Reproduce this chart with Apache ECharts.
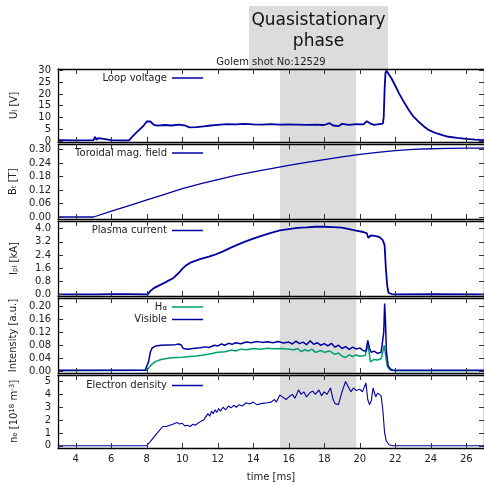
<!DOCTYPE html>
<html>
<head>
<meta charset="utf-8">
<script src="https://cdn.jsdelivr.net/npm/echarts@6/dist/echarts.min.js"></script>
<style>
  html, body { margin: 0; padding: 0; background: #fff; }
  #main { width: 484px; height: 483px; }
</style>
</head>
<body>
<div id="main"></div>
<script>
// time ticks (ms)
var timeTicks = [4, 6, 8, 10, 12, 14, 16, 18, 20, 22, 24, 26];
var loopTicks = [0, 5, 10, 15, 20, 25, 30];
var btTicks = [0, 0.06, 0.12, 0.18, 0.24, 0.30];
var ipTicks = [0, 0.8, 1.6, 2.4, 3.2, 4.0];
var intTicks = [0, 0.04, 0.08, 0.12, 0.16, 0.20];
var neTicks = [0, 1, 2, 3, 4, 5];

// [time ms, value]
var loopVoltage = [
  [3, 0.4], [4, 0.3], [5, 0.4], [5.1, 1.8], [5.15, 0.6], [5.3, 1.2], [5.35, 0.5], [6, 0.4],
  [6.5, 0.3], [7.0, 0.3], [7.2, 2.0], [7.5, 4.2], [7.8, 6.3], [8.0, 8.3], [8.1, 8.8], [8.2, 8.3],
  [8.4, 6.9], [8.6, 6.5], [9.0, 6.8], [9.4, 6.6], [9.8, 7.0], [10.2, 6.5], [10.4, 5.8], [10.8, 5.9],
  [11.2, 6.2], [11.6, 6.6], [12.0, 6.9], [12.5, 7.2], [13, 7.1], [13.5, 7.3], [14, 7.1], [14.5, 7.0],
  [15, 7.2], [15.5, 7.0], [16, 7.1], [16.5, 7.0], [17, 6.9], [17.5, 7.0], [18, 6.8], [18.3, 7.6],
  [18.5, 6.6], [18.8, 6.3], [19, 7.3], [19.4, 6.9], [19.8, 7.2], [20.2, 7.1], [20.4, 8.4], [20.5, 9.2],
  [20.6, 7.4], [20.8, 6.9], [21, 7.1], [21.3, 7.4], [21.35, 10], [21.4, 22], [21.45, 29], [21.5, 30],
  [21.6, 29.2], [21.8, 26.5], [22.0, 23.5], [22.2, 20.5], [22.4, 17.7], [22.6, 15.2], [22.8, 12.8],
  [23.0, 10.6], [23.3, 8.3], [23.6, 6.3], [23.9, 4.6], [24.3, 3.3], [24.7, 2.4], [25.0, 1.8],
  [25.5, 1.3], [26, 0.9], [26.5, 0.6], [27, 0.4]
];

var toroidalField = [
  [3, 0], [5, 0], [6, 0.026], [7, 0.051], [8, 0.076], [9, 0.101], [10, 0.126], [11, 0.148],
  [12, 0.167], [13, 0.185], [14, 0.201], [15, 0.216], [16, 0.230], [17, 0.243], [18, 0.256],
  [19, 0.268], [20, 0.279], [21, 0.288], [22, 0.296], [23, 0.301], [24, 0.304], [25, 0.306],
  [26, 0.307], [27, 0.307]
];

var plasmaCurrent = [
  [3, 0], [5, 0], [5.1, 0.08], [5.2, 0], [6, 0.02], [7, 0.02], [8.05, 0], [8.2, 0.2], [8.4, 0.38],
  [8.7, 0.55], [9.0, 0.7], [9.2, 0.82], [9.5, 1.0], [9.8, 1.3], [10.0, 1.55], [10.2, 1.75],
  [10.5, 1.95], [11, 2.15], [11.5, 2.3], [11.8, 2.4], [12.3, 2.62], [12.8, 2.88], [13.5, 3.2],
  [14, 3.4], [14.5, 3.58], [15, 3.75], [15.5, 3.9], [16, 3.98], [16.5, 4.05], [17, 4.08],
  [17.5, 4.12], [18, 4.12], [18.5, 4.1], [19, 4.07], [19.4, 3.98], [19.8, 3.88], [20.2, 3.8],
  [20.4, 3.72], [20.48, 3.45], [20.55, 3.5], [20.65, 3.6], [20.9, 3.55], [21.1, 3.5], [21.3, 3.3],
  [21.4, 3.0], [21.47, 1.6], [21.55, 0.5], [21.62, 0.1], [21.8, 0.02], [22, 0], [24, 0.01], [27, 0]
];

var hAlpha = [
  [3, 0.001], [8.0, 0.002], [8.1, 0.01], [8.3, 0.022], [8.5, 0.03], [8.8, 0.036], [9.2, 0.04],
  [9.6, 0.042], [10, 0.043], [10.4, 0.045], [10.8, 0.047], [11.2, 0.05], [11.6, 0.054], [12, 0.058],
  [12.4, 0.06], [12.8, 0.065], [13, 0.062], [13.3, 0.068], [13.6, 0.066], [14, 0.07], [14.4, 0.068],
  [14.8, 0.071], [15.2, 0.069], [15.6, 0.07], [16.0, 0.068], [16.3, 0.066], [16.5, 0.07], [16.7, 0.06],
  [16.9, 0.066], [17.1, 0.062], [17.3, 0.068], [17.5, 0.058], [17.8, 0.064], [18.0, 0.058],
  [18.3, 0.062], [18.6, 0.052], [18.8, 0.056], [19.0, 0.046], [19.2, 0.042], [19.4, 0.05],
  [19.6, 0.045], [19.8, 0.05], [20.0, 0.046], [20.3, 0.048], [20.45, 0.08], [20.52, 0.06],
  [20.6, 0.028], [20.8, 0.036], [21.0, 0.034], [21.2, 0.038], [21.3, 0.06], [21.38, 0.08],
  [21.45, 0.05], [21.55, 0.015], [21.7, 0.003], [22, 0.001], [27, 0.001]
];

var visible = [
  [3, 0.002], [7.9, 0.002], [8.0, 0.005], [8.1, 0.03], [8.2, 0.06], [8.3, 0.072], [8.5, 0.078],
  [8.8, 0.08], [9.2, 0.081], [9.6, 0.082], [9.8, 0.084], [9.95, 0.08], [10.05, 0.07], [10.3, 0.068],
  [10.6, 0.07], [11, 0.072], [11.3, 0.075], [11.5, 0.073], [11.8, 0.08], [12.0, 0.078], [12.2, 0.084],
  [12.4, 0.08], [12.6, 0.086], [12.8, 0.083], [13, 0.088], [13.3, 0.085], [13.6, 0.09], [13.9, 0.088],
  [14.2, 0.092], [14.5, 0.089], [14.8, 0.091], [15.1, 0.088], [15.4, 0.092], [15.7, 0.087],
  [16.0, 0.09], [16.2, 0.084], [16.4, 0.093], [16.6, 0.085], [16.8, 0.09], [17.0, 0.082],
  [17.2, 0.094], [17.4, 0.083], [17.6, 0.088], [17.8, 0.08], [18.0, 0.085], [18.2, 0.078],
  [18.4, 0.086], [18.6, 0.074], [18.8, 0.08], [19.0, 0.07], [19.2, 0.076], [19.4, 0.067],
  [19.6, 0.074], [19.8, 0.068], [20.0, 0.072], [20.2, 0.063], [20.35, 0.062], [20.45, 0.095],
  [20.55, 0.07], [20.65, 0.058], [20.8, 0.062], [21.0, 0.055], [21.2, 0.058], [21.3, 0.062],
  [21.35, 0.12], [21.4, 0.21], [21.45, 0.15], [21.5, 0.06], [21.6, 0.015], [21.8, 0.003],
  [22.5, 0.002], [27, 0.002]
];

var electronDensity = [
  [3, 0], [8.0, 0], [8.3, 0.5], [8.6, 1.0], [8.9, 1.5], [9.1, 1.5], [9.3, 1.6], [9.5, 1.7],
  [9.7, 1.82], [9.85, 1.7], [10.0, 1.75], [10.15, 1.55], [10.3, 1.6], [10.45, 1.5], [10.6, 1.68],
  [10.75, 1.6], [10.9, 1.78], [11.05, 1.9], [11.2, 2.0], [11.3, 1.9], [11.45, 2.5], [11.55, 2.3],
  [11.65, 2.7], [11.75, 2.5], [11.85, 2.8], [11.95, 2.6], [12.05, 2.9], [12.15, 2.7], [12.3, 3.0],
  [12.45, 2.8], [12.6, 3.1], [12.75, 2.95], [12.9, 3.15], [13.05, 3.0], [13.2, 3.2], [13.4, 3.1],
  [13.6, 3.35], [13.8, 3.25], [14.0, 3.4], [14.2, 3.2], [14.5, 3.3], [14.8, 3.35], [15.0, 3.4],
  [15.2, 3.6], [15.3, 3.4], [15.5, 3.95], [15.7, 3.75], [15.85, 3.6], [16.0, 3.8], [16.2, 4.0],
  [16.35, 3.7], [16.55, 4.35], [16.7, 4.0], [16.85, 4.2], [17.0, 3.8], [17.2, 4.15], [17.35, 4.25],
  [17.5, 4.0], [17.7, 4.35], [17.85, 3.9], [18.0, 4.2], [18.15, 4.0], [18.35, 4.5], [18.5, 3.6],
  [18.6, 3.3], [18.8, 3.2], [19.0, 4.2], [19.2, 5.0], [19.35, 4.6], [19.5, 4.2], [19.65, 4.5],
  [19.8, 4.3], [20.0, 4.4], [20.15, 4.2], [20.35, 4.9], [20.45, 3.6], [20.55, 3.2], [20.65, 3.5],
  [20.75, 4.5], [20.9, 3.8], [21.0, 4.1], [21.1, 4.0], [21.2, 3.9], [21.3, 2.8], [21.4, 1.0],
  [21.5, 0.35], [21.65, 0.08], [21.85, 0.0], [27, 0.0]
];

// quasistationary phase (ms)
var phaseStart = 15.5;
var phaseEnd = 19.8;

var FONT = 'DejaVu Sans';
var TXT = '#222';
var BLUE = '#0000a0';
var TEAL = '#009e73';

var rich = {
  m: { fontSize: 10, fontFamily: FONT, color: TXT },
  s: { fontSize: 7, fontFamily: FONT, color: TXT, verticalAlign: 'bottom' },
  p: { fontSize: 7, fontFamily: FONT, color: TXT, verticalAlign: 'top' }
};

var panels = [
  { top: 69, height: 73, min: -0.43, max: 30.64, ticks: loopTicks, dec: 0, name: '{m|U}{s|l}{m| [V]}' },
  { top: 144.5, height: 74.5, min: -0.0089, max: 0.323, ticks: btTicks, dec: 2, name: '{m|B}{s|t}{m| [T]}' },
  { top: 221, height: 75, min: -0.10, max: 4.47, ticks: ipTicks, dec: 1, name: '{m|I}{s|pl}{m| [kA]}' },
  { top: 298, height: 75, min: -0.0062, max: 0.227, ticks: intTicks, dec: 2, name: '{m|Intensity [a.u.]}' },
  { top: 375, height: 75, min: -0.174, max: 5.51, ticks: neTicks, dec: 0, name: '{m|n}{s|e}{m| [10}{p|18}{m| m}{p|-3}{m|]}' }
];

var grids = [], xAxes = [], yAxes = [];
panels.forEach(function (p, i) {
  grids.push({ left: 58, width: 426, top: p.top, height: p.height });
  var last = i === panels.length - 1;
  ['bottom', 'top'].forEach(function (pos) {
    xAxes.push({
      type: 'value', gridIndex: i, position: pos, min: 3, max: 27, z: 10,
      axisLine: { show: true, onZero: false, lineStyle: { color: '#000', width: 1.3 } },
      axisTick: { show: true, inside: true, length: 5, customValues: timeTicks, lineStyle: { color: '#333' } },
      axisLabel: {
        show: last && pos === 'bottom', customValues: timeTicks, margin: 6,
        fontSize: 10, fontFamily: FONT, color: TXT
      },
      splitLine: { show: false },
      name: last && pos === 'bottom' ? 'time [ms]' : '',
      nameLocation: 'middle', nameGap: 24,
      nameTextStyle: { fontSize: 10, fontFamily: FONT, color: TXT }
    });
  });
  ['left', 'right'].forEach(function (pos) {
    yAxes.push({
      type: 'value', gridIndex: i, position: pos, min: p.min, max: p.max, z: 10,
      axisLine: { show: true, onZero: false, lineStyle: { color: '#000', width: 1.3 } },
      axisTick: { show: true, inside: true, length: 5, customValues: p.ticks, lineStyle: { color: '#333' } },
      axisLabel: {
        show: pos === 'left', customValues: p.ticks, margin: 7,
        fontSize: 10, fontFamily: FONT, color: TXT,
        formatter: function (v) { return v.toFixed(p.dec); }
      },
      splitLine: { show: false },
      name: pos === 'left' ? p.name : '',
      nameLocation: 'middle', nameRotate: 90, nameGap: 39,
      nameTextStyle: { rich: rich }
    });
  });
});

function mkSeries(name, data, panel, color, width, withPhase) {
  var s = {
    name: name, type: 'line', data: data,
    xAxisIndex: panel * 2, yAxisIndex: panel * 2,
    showSymbol: false, symbol: 'none', animation: false,
    lineStyle: { color: color, width: width }, itemStyle: { color: color }
  };
  if (withPhase) {
    s.markArea = {
      silent: true,
      itemStyle: { color: '#dcdcdc' },
      data: [[{ xAxis: phaseStart }, { xAxis: phaseEnd }]]
    };
  }
  return s;
}

var series = [
  mkSeries('Loop voltage', loopVoltage, 0, BLUE, 1.8, true),
  mkSeries('Toroidal mag. field', toroidalField, 1, BLUE, 1.3, true),
  mkSeries('Plasma current', plasmaCurrent, 2, BLUE, 1.8, true),
  mkSeries('Hα', hAlpha, 3, TEAL, 1.5, true),
  mkSeries('Visible', visible, 3, BLUE, 1.5, false),
  mkSeries('Electron density', electronDensity, 4, BLUE, 1.1, true)
];

function mkLegend(name, centerY, fmt) {
  var l = {
    data: [name], right: 281, top: centerY - 7, padding: 0,
    align: 'right', icon: 'rect', itemWidth: 31, itemHeight: 1.5,
    selectedMode: false,
    textStyle: { fontSize: 10, fontFamily: FONT, color: TXT, rich: rich }
  };
  if (fmt) l.formatter = fmt;
  return l;
}

var legends = [
  mkLegend('Loop voltage', 80),
  mkLegend('Toroidal mag. field', 155),
  mkLegend('Plasma current', 232.5),
  mkLegend('Hα', 309, function () { return '{m|H}{s|α}'; }),
  mkLegend('Visible', 321.5),
  mkLegend('Electron density', 387.5)
];

var chart = echarts.init(document.getElementById('main'));
chart.setOption({
  animation: false,
  backgroundColor: '#fff',
  grid: grids,
  xAxis: xAxes,
  yAxis: yAxes,
  legend: legends,
  series: series,
  graphic: [
    { type: 'rect', shape: { x: 249, y: 6, width: 139, height: 63 }, style: { fill: '#dcdcdc' }, z: 0 },
    {
      type: 'text', x: 318.5, y: 10, z: 5,
      style: {
        text: 'Quasistationary\nphase', fontSize: 17, lineHeight: 21, fontFamily: FONT,
        fill: '#111', align: 'center'
      }
    },
    {
      type: 'text', x: 271, y: 57, z: 5,
      style: { text: 'Golem shot No:12529', fontSize: 10, fontFamily: FONT, fill: TXT, align: 'center' }
    }
  ]
});
</script>
</body>
</html>
